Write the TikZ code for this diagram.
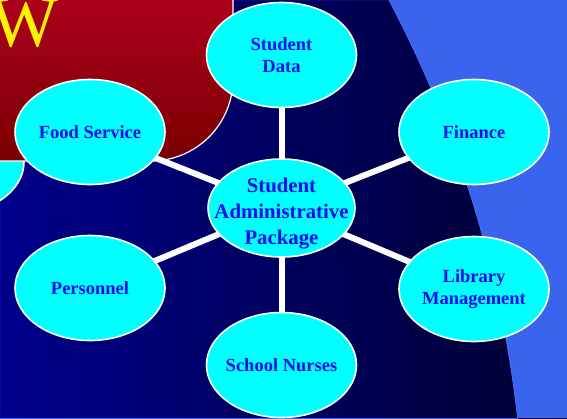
\documentclass[tikz,border=0pt]{standalone}
\usepackage{fontspec}
\setmainfont{Liberation Serif}
\usetikzlibrary{shapes.geometric}
\definecolor{cyanfill}{RGB}{0,255,255}
\definecolor{labelblue}{RGB}{12,12,240}
\definecolor{bgleft}{RGB}{0,0,140}
\definecolor{bgright}{RGB}{0,0,48}
\definecolor{lightblue}{RGB}{58,100,238}
\definecolor{edgeblue}{RGB}{70,115,255}
\definecolor{redtop}{RGB}{180,0,32}
\definecolor{redbot}{RGB}{120,0,0}
\pgfdeclarelayer{back}
\pgfdeclarelayer{mid}
\pgfsetlayers{back,mid,main}
\newcommand{\lowline}[1]{\smash{\raisebox{-10pt}{#1}}}
\begin{document}
\begin{tikzpicture}[x=1pt,y=-1pt,
  bub/.style={ellipse, draw=white, line width=1.6pt, fill=cyanfill,
    minimum width=150pt, minimum height=105pt, inner xsep=-30pt, inner ysep=-20pt, align=center,
    text=labelblue, font=\fontsize{18.5}{22}\selectfont\bfseries},
  link/.style={draw=white, line width=6pt}]
\useasboundingbox (0,0) rectangle (567,418);
\begin{pgfonlayer}{back}
\clip (0,0) rectangle (567,418);
\shade[left color=bgleft,right color=bgright] (0,0) rectangle (567,418);
\fill[lightblue, even odd rule] (0,0) rectangle (567,418) (-657,551) circle[radius=1182];
\draw[edgeblue,line width=0.8pt] (-657,551) circle[radius=1182];
\node[bub] (prev) at (-51,162) {};
\shade[top color=redtop,bottom color=redbot,draw=white,line width=1.2pt]
  (-20,-20) -- (233,-20) -- (233,79) arc[start angle=0,end angle=90,radius=82] -- (-20,161) -- cycle;
\node[anchor=base west, text=yellow, inner sep=0pt, font=\fontsize{72}{72}\selectfont] (w) at (-10,46) {W};
\end{pgfonlayer}
\node[bub, minimum width=147pt, minimum height=98pt, font=\fontsize{20.8}{26}\selectfont\bfseries] (c) at (281.5,208) {\lowline{Student}\\\lowline{Administrative}\\\lowline{Package}};
\node[bub] (sd) at (281.5,55) {Student\\Data};
\node[bub] (fin) at (474,132) {Finance};
\node[bub] (lib) at (474,289) {Library\\Management};
\node[bub] (food) at (90,132) {Food Service};
\node[bub] (per) at (90,288) {Personnel};
\node[bub] (sn) at (281.5,365) {School Nurses};
\begin{pgfonlayer}{mid}
\foreach \n in {sd,fin,lib,sn,per,food} \draw[link] (c.center) -- (\n.center);
\end{pgfonlayer}
\end{tikzpicture}
\end{document}
